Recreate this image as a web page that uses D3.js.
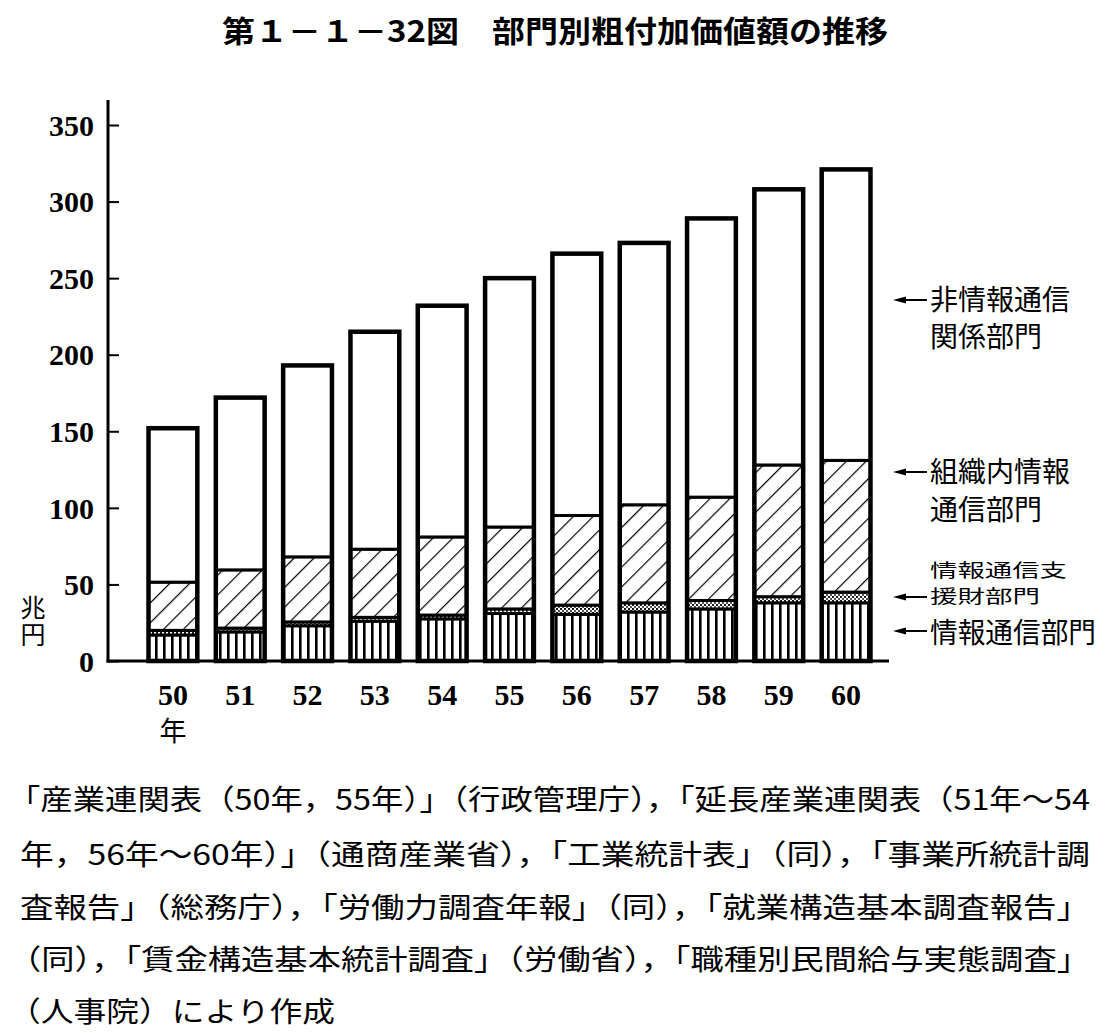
<!DOCTYPE html>
<html>
<head>
<meta charset="utf-8">
<script src="https://cdn.jsdelivr.net/npm/d3@7"></script>
<style>
  body { margin: 0; background: #fff; }
  .jp { font-family: "Noto Sans CJK JP", sans-serif; fill: #000; }
  .num { font-family: "Liberation Serif", serif; font-weight: bold; fill: #000; }
</style>
</head>
<body>
<div id="chart"></div>
<script>

// Data (兆円)
var years = ["50", "51", "52", "53", "54", "55", "56", "57", "58", "59", "60"];
var info     = [17, 19, 23, 26, 27.5, 31, 30.5, 32, 34, 38, 38];          // 情報通信部門
var support  = [3, 2.5, 2.5, 2.5, 2.5, 3, 6, 6, 5.5, 4, 7];               // 情報通信支援財部門
var internal = [31.5, 38, 42.5, 44.5, 51, 53.5, 58.5, 64, 67.5, 86, 86];  // 組織内情報通信部門
var nonInfo  = [100.5, 112.5, 125, 142, 151, 162.5, 171, 171, 182, 180, 190]; // 非情報通信関係部門
var yTicks = [0, 50, 100, 150, 200, 250, 300, 350];

var keys = ["info", "support", "internal", "nonInfo"];
var fills = { info: "url(#vlines)", support: "url(#dots)", internal: "url(#diag)", nonInfo: "#fff" };

var footer = [
    "「産業連関表（50年，55年）」（行政管理庁），「延長産業連関表（51年～54",
    "年，56年～60年）」（通商産業省），「工業統計表」（同），「事業所統計調",
    "査報告」（総務庁），「労働力調査年報」（同），「就業構造基本調査報告」",
    "（同），「賃金構造基本統計調査」（労働省），「職種別民間給与実態調査」",
    "（人事院）により作成"
];

var width = 1113,
    height = 1033;

var svg = d3.select("#chart").append("svg")
    .attr("width", width)
    .attr("height", height);

// Patterns
var defs = svg.append("defs");

defs.append("pattern")
    .attr("id", "vlines")
    .attr("patternUnits", "userSpaceOnUse")
    .attr("width", 8).attr("height", 8)
    .append("rect")
    .attr("x", 3).attr("y", 0).attr("width", 2.6).attr("height", 8)
    .attr("fill", "#000");

var dots = defs.append("pattern")
    .attr("id", "dots")
    .attr("patternUnits", "userSpaceOnUse")
    .attr("width", 4).attr("height", 4);
dots.append("rect").attr("width", 4).attr("height", 4).attr("fill", "#fff");
dots.append("circle").attr("cx", 1).attr("cy", 1).attr("r", 1.1).attr("fill", "#000");
dots.append("circle").attr("cx", 3).attr("cy", 3).attr("r", 0.9).attr("fill", "#000");

var diag = defs.append("pattern")
    .attr("id", "diag")
    .attr("patternUnits", "userSpaceOnUse")
    .attr("width", 14).attr("height", 14)
    .attr("patternTransform", "rotate(45)");
diag.append("rect").attr("width", 14).attr("height", 14).attr("fill", "#fff");
diag.append("line")
    .attr("x1", 0).attr("y1", 0).attr("x2", 0).attr("y2", 14)
    .attr("stroke", "#000").attr("stroke-width", 2.4);

// Scales
var x = d3.scaleBand()
    .domain(years)
    .range([130, 889])
    .paddingInner(0.275)
    .paddingOuter(0.275);

var y = d3.scaleLinear()
    .domain([0, 350])
    .range([661, 125]);

// Stack
var table = years.map(function(yr, i) {
    return { year: yr, info: info[i], support: support[i], internal: internal[i], nonInfo: nonInfo[i] };
});
var series = d3.stack().keys(keys)(table);

// Title
svg.append("text")
    .attr("class", "jp")
    .attr("x", 222).attr("y", 42)
    .attr("textLength", 666)
    .attr("lengthAdjust", "spacingAndGlyphs")
    .style("font-size", "30px")
    .style("font-weight", "bold")
    .text("第１－１－32図　部門別粗付加価値額の推移");

// Bars
var layer = svg.selectAll("g.layer")
    .data(series)
    .enter().append("g")
    .attr("class", "layer")
    .attr("fill", function(d) { return fills[d.key]; });

layer.selectAll("rect")
    .data(function(d) { return d; })
    .enter().append("rect")
    .attr("x", function(d) { return x(d.data.year); })
    .attr("y", function(d) { return y(d[1]); })
    .attr("width", x.bandwidth())
    .attr("height", function(d) { return y(d[0]) - y(d[1]); })
    .attr("stroke", "#000")
    .attr("stroke-width", 3);

// Thick bar outline
svg.selectAll("rect.outline")
    .data(table)
    .enter().append("rect")
    .attr("class", "outline")
    .attr("x", function(d) { return x(d.year); })
    .attr("y", function(d) { return y(d.info + d.support + d.internal + d.nonInfo); })
    .attr("width", x.bandwidth())
    .attr("height", function(d) { return y(0) - y(d.info + d.support + d.internal + d.nonInfo); })
    .attr("fill", "none")
    .attr("stroke", "#000")
    .attr("stroke-width", 4.5);

// Y axis
var yAxis = d3.axisLeft(y)
    .tickValues(yTicks)
    .tickSizeInner(-11)
    .tickSizeOuter(0)
    .tickPadding(14);

var gy = svg.append("g")
    .attr("transform", "translate(108,0)")
    .call(yAxis);
gy.select(".domain").remove();
gy.selectAll(".tick line").attr("stroke", "#000").attr("stroke-width", 2);
gy.selectAll(".tick text")
    .attr("class", "num")
    .style("font-size", "30px")
    .attr("dy", "0.34em");

svg.append("line")
    .attr("x1", 108).attr("x2", 108)
    .attr("y1", 100).attr("y2", y(0) + 1.5)
    .attr("stroke", "#000").attr("stroke-width", 3);

// X axis
svg.append("line")
    .attr("x1", 106.5).attr("x2", 889)
    .attr("y1", y(0)).attr("y2", y(0))
    .attr("stroke", "#000").attr("stroke-width", 3);

svg.selectAll("text.xlab")
    .data(years)
    .enter().append("text")
    .attr("class", "num xlab")
    .attr("x", function(d) { return x(d) + x.bandwidth() / 2; })
    .attr("y", 705)
    .attr("text-anchor", "middle")
    .style("font-size", "30px")
    .text(function(d) { return d; });

svg.append("text")
    .attr("class", "jp")
    .attr("x", x(years[0]) + x.bandwidth() / 2)
    .attr("y", 741)
    .attr("text-anchor", "middle")
    .style("font-size", "27px")
    .text("年");

// Unit label (vertical)
svg.append("text")
    .attr("class", "jp")
    .attr("x", 33).attr("y", 595)
    .style("font-size", "25px")
    .style("writing-mode", "vertical-rl")
    .style("letter-spacing", "2px")
    .text("兆円");

// Annotations (each label is one text, lines as tspans)
var notes = [
    { lines: ["非情報通信", "関係部門"], y: [310, 347], size: 28, arrow: 300, len: [140, 112] },
    { lines: ["組織内情報", "通信部門"], y: [482, 520], size: 28, arrow: 472, len: [140, 112] },
    { lines: ["情報通信支", "援財部門"], y: [577, 603], size: 18, arrow: 597, len: [137, 110] },
    { lines: ["情報通信部門"], y: [643], size: 28, arrow: 631, len: [166] }
];

notes.forEach(function(n) {
    var t = svg.append("text")
        .attr("class", "jp")
        .style("font-size", n.size + "px");
    n.lines.forEach(function(s, i) {
        t.append("tspan")
            .attr("x", 930).attr("y", n.y[i])
            .attr("textLength", n.len[i])
            .attr("lengthAdjust", "spacingAndGlyphs")
            .text(s);
    });
    svg.append("line")
        .attr("x1", 902).attr("x2", 927)
        .attr("y1", n.arrow).attr("y2", n.arrow)
        .attr("stroke", "#000").attr("stroke-width", 2);
    svg.append("path")
        .attr("d", "M893," + n.arrow + "L906," + (n.arrow - 3.5) + "L906," + (n.arrow + 3.5) + "Z")
        .attr("fill", "#000");
});

// Source text (lines opening with a bracket start a bit further left)
var footY = [810, 865, 918, 970, 1022];
footer.forEach(function(t, i) {
    var open = /^[「（]/.test(t) ? 12 : 0;
    svg.append("text")
        .attr("class", "jp")
        .attr("x", 20 - open).attr("y", footY[i])
        .attr("textLength", (i < 4 ? 1070 : 315) + open)
        .attr("lengthAdjust", "spacingAndGlyphs")
        .style("font-size", "28px")
        .text(t);
});

</script>
</body>
</html>
